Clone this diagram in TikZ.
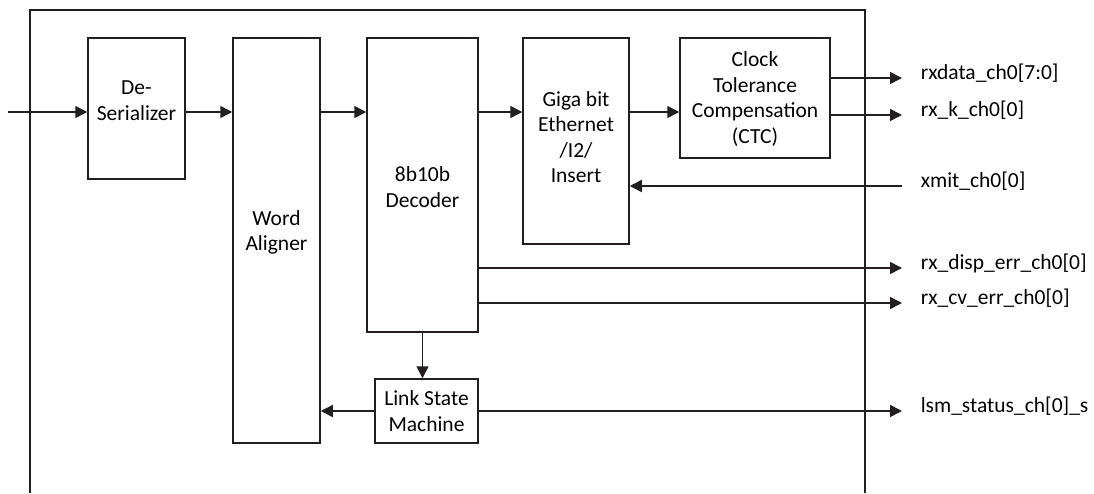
\documentclass[tikz,border=0pt]{standalone}
\usepackage{fontspec}
\setmainfont{Carlito}
\usetikzlibrary{arrows.meta}
\begin{document}
\begin{tikzpicture}[x=1pt,y=-1pt,
  line width=1.5pt, draw={rgb,255:red,35;green,31;blue,32},
  block/.style={draw, rectangle, inner sep=0pt},
  txt/.style={align=center, inner sep=0pt, font=\fontsize{21.5}{25.5}\selectfont},
  sig/.style={-{Triangle[length=12pt,width=12pt]}},
  port/.style={anchor=base west, inner sep=0pt, font=\fontsize{21.5}{25.5}\selectfont}]
\useasboundingbox (0,0) rectangle (1094,493);

% enclosing frame, open at the bottom
\draw (30,493) -- (30,10) -- (865,10) -- (865,493);

% processing blocks
\node[block, minimum width=97pt,  minimum height=141pt] (deser) at (136.5,108.5) {};
\node[block, minimum width=87pt,  minimum height=405pt] (align) at (276.5,240.5) {};
\node[block, minimum width=111pt, minimum height=294pt] (dec)   at (422.5,185)   {};
\node[block, minimum width=106pt, minimum height=206pt] (gige)  at (576,141)     {};
\node[block, minimum width=150pt, minimum height=120pt] (ctc)   at (755,98)      {};
\node[block, minimum width=103pt, minimum height=64pt]  (lsm)   at (426.5,411)   {};

% block captions
\node[txt] (tDeser) at ([yshift=8pt]deser.center) {De-\\Serializer};
\node[txt] (tAlign) at ([yshift=8pt]align.center) {Word\\Aligner};
\node[txt] (tDec)   at ([yshift=-2pt]dec.center)  {8b10b\\Decoder};
\node[txt] (tGige)  at ([yshift=4pt]gige.center)  {Giga bit\\Ethernet\\/I2/\\Insert};
\node[txt] (tCtc)   at ([yshift=-1pt]ctc.center)  {Clock\\Tolerance\\Compensation\\(CTC)};
\node[txt] (tLsm)   at (lsm.center)               {Link State\\Machine};

% external ports
\coordinate (in)    at (8,112);
\coordinate (oData) at (902,78);
\coordinate (oK)    at (902,115);
\coordinate (iXmit) at (902,186);
\coordinate (oDisp) at (902,268);
\coordinate (oCv)   at (902,303);
\coordinate (oLsm)  at (902,411);
\coordinate (row)   at (0,112);

\node[port] (lData) at (920,79)  {rxdata\_ch0[7:0]};
\node[port] (lK)    at (920,116) {rx\_k\_ch0[0]};
\node[port] (lXmit) at (920,187) {xmit\_ch0[0]};
\node[port] (lDisp) at (920,269) {rx\_disp\_err\_ch0[0]};
\node[port] (lCv)   at (920,304) {rx\_cv\_err\_ch0[0]};
\node[port] (lLsm)  at (920,412) {lsm\_status\_ch[0]\_s};

% data path
\draw[sig] (in) -- (in -| deser.west);
\draw[sig] (deser.east |- row) -- (align.west |- row);
\draw[sig] (align.east |- row) -- (dec.west |- row);
\draw[sig] (dec.east |- row) -- (gige.west |- row);
\draw[sig] (gige.east |- row) -- (ctc.west |- row);
\draw[sig] (ctc.east |- oData) -- (oData);
\draw[sig] (ctc.east |- oK) -- (oK);
\draw[sig] (iXmit) -- (iXmit -| gige.east);
\draw[sig] (dec.east |- oDisp) -- (oDisp);
\draw[sig] (dec.east |- oCv) -- (oCv);

% link state machine
\draw[sig] (dec.south) -- (dec.south |- lsm.north);
\draw[sig] (lsm.west) -- (lsm.west -| align.east);
\draw[sig] (lsm.east) -- (oLsm);
\end{tikzpicture}
\end{document}
